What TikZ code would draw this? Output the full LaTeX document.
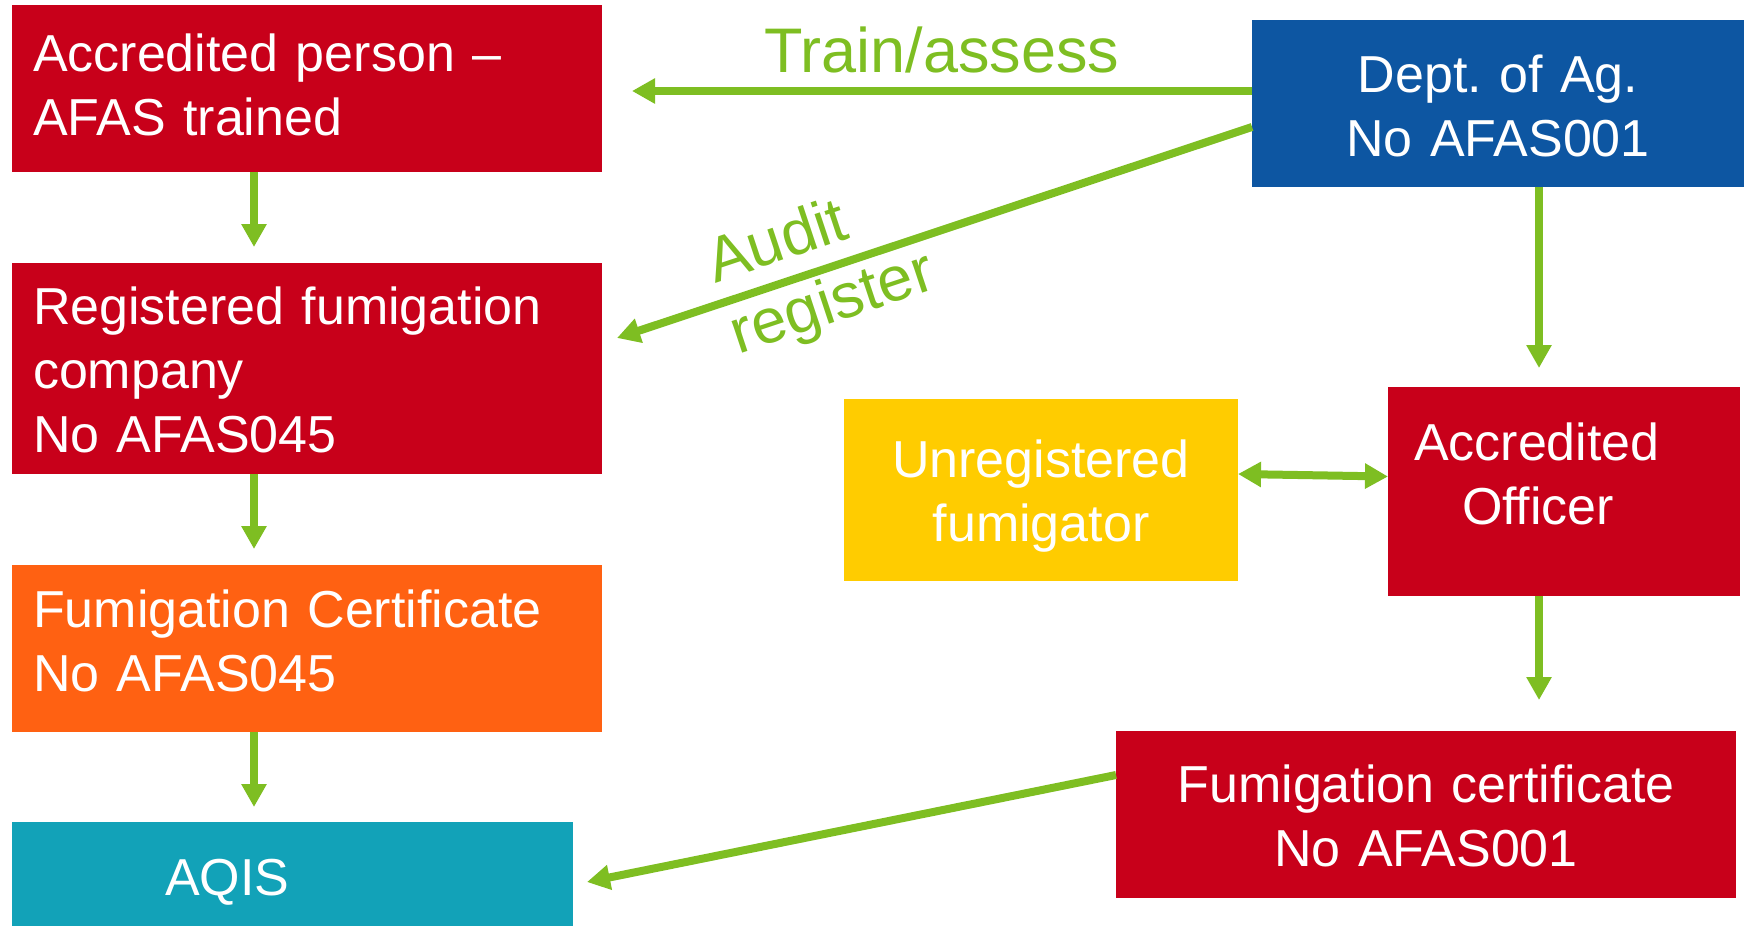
\documentclass[tikz,border=0pt]{standalone}
\usepackage{fontspec}
\setmainfont{Liberation Sans}
\usetikzlibrary{arrows.meta}
\definecolor{agred}{HTML}{C8001A}
\definecolor{agblue}{HTML}{0D56A2}
\definecolor{agorange}{HTML}{FF6112}
\definecolor{agyellow}{HTML}{FFCC00}
\definecolor{agteal}{HTML}{12A2B8}
\definecolor{aggreen}{HTML}{7EBE22}
\frenchspacing
\begin{document}
\begin{tikzpicture}[
		% coordinates in pixels of the slide, y going down
		x=0.5pt, y=-0.5pt,
		>={Triangle[length=11.5pt,width=12pt]},
		box/.style={anchor=north west, inner ysep=0pt, outer sep=0pt, text=white,
			font=\fontsize{26}{32}\selectfont},
		leftbox/.style={box, align=left, inner xsep=10.5pt, text width=274pt},
		midbox/.style={box, align=center, inner xsep=0pt},
		link/.style={draw=aggreen, line width=4pt, ->},
		linklabel/.style={text=aggreen, font=\fontsize{31.5}{37.5}\selectfont},
		]
		\useasboundingbox (0,0) rectangle (1744,926);
		\node[leftbox, fill=agred, text height=33pt, text depth=50.5pt] (person) at (12,5) {Accredited person --\\AFAS trained};
		\node[leftbox, fill=agred, text height=30.5pt, text depth=75pt] (reg) at (12,263) {Registered fumigation\\company\\No AFAS045};
		\node[leftbox, fill=agorange, text height=31pt, text depth=52.5pt] (cert) at (12,565) {Fumigation Certificate\\No AFAS045};
		\node[box, fill=agteal, align=left, inner xsep=76.5pt, text width=127.5pt, text height=36.5pt, text depth=15.5pt] (aqis) at (12,822) {AQIS};
		\node[midbox, fill=agblue, text width=246pt, text height=36pt, text depth=47.5pt] (dept) at (1252,20) {Dept. of Ag.\\No AFAS001};
		\node[midbox, fill=agyellow, text width=197pt, text height=39pt, text depth=52pt] (unreg) at (844,399) {Unregistered\\fumigator};
		\node[box, fill=agred, align=left, inner xsep=13pt, text width=150pt, text height=36.5pt, text depth=68pt] (officer) at (1388,387) {Accredited\\\hspace*{24pt}Officer};
		\node[midbox, fill=agred, text width=310pt, text height=35.5pt, text depth=48pt] (fcert) at (1116,731) {Fumigation certificate\\No AFAS001};

		\draw[link] ([yshift=6.25pt]dept.west) -- node[linklabel, midway, anchor=base, yshift=9.5pt] {Train/assess} ([xshift=15pt,yshift=-1.25pt]person.east);
		\draw[link] ([yshift=-11.75pt]dept.west) -- node[linklabel, sloped, pos=0.678, align=left] {Audit\\register} ([xshift=7.5pt,yshift=15.25pt]reg.east);
		\draw[link] ([xshift=-26.5pt]person.south) -- ([xshift=-26.5pt,yshift=8pt]reg.north);
		\draw[link] ([xshift=-26.5pt]reg.south) -- ([xshift=-26.5pt,yshift=8pt]cert.north);
		\draw[link] ([xshift=-26.5pt]cert.south) -- ([xshift=-19.25pt,yshift=7.5pt]aqis.north);
		\draw[link] ([xshift=20.5pt]dept.south) -- ([xshift=-12.5pt,yshift=9.5pt]officer.north);
		\draw[link, <->] ([yshift=8pt]unreg.east) -- ([yshift=7.5pt]officer.west);
		\draw[link] ([xshift=-12.5pt]officer.south) -- ([xshift=56.5pt,yshift=15.5pt]fcert.north);
		\draw[link] ([yshift=19.75pt]fcert.west) -- ([xshift=7pt,yshift=-4pt]aqis.east);
	\end{tikzpicture}
\end{document}
